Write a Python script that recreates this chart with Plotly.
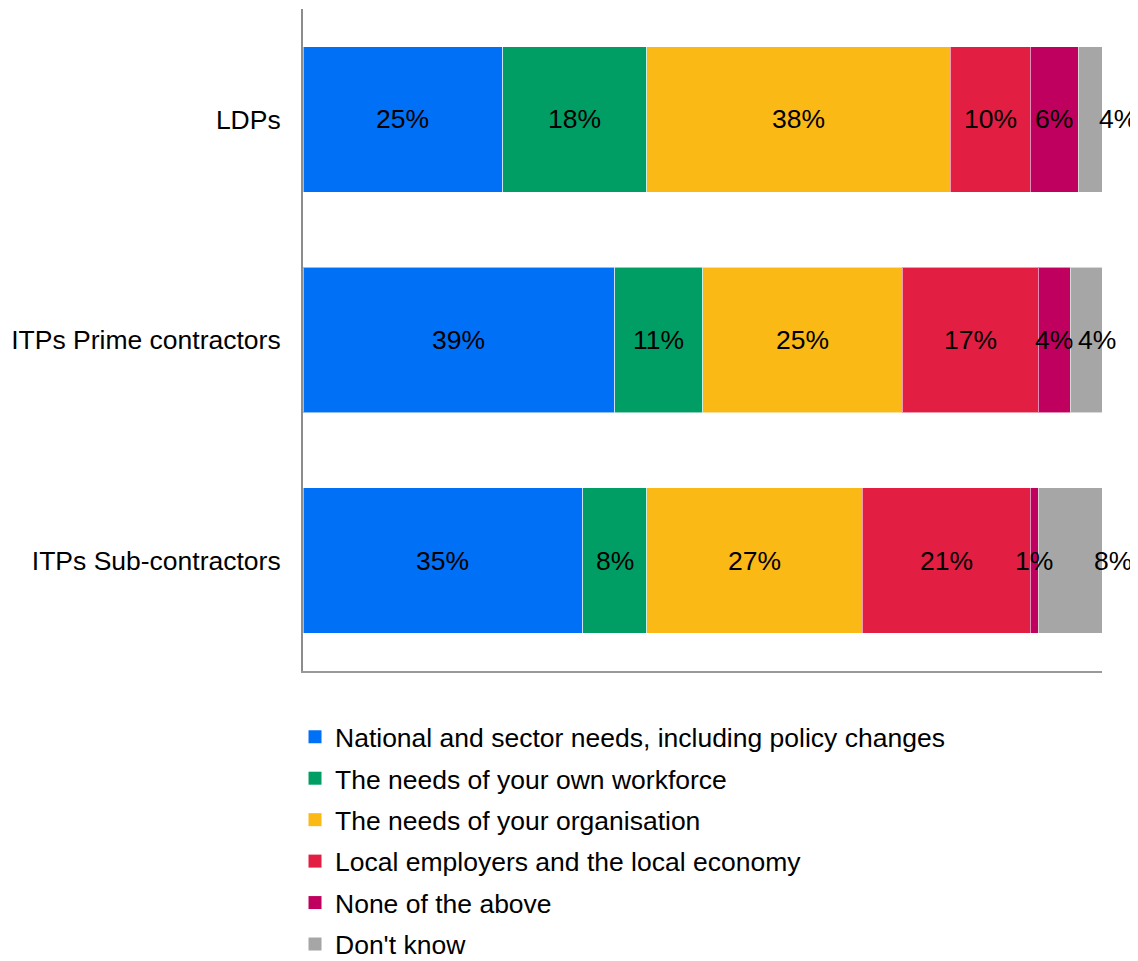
import plotly.graph_objects as go
import numpy as np

categories = ["LDPs", "ITPs Prime contractors", "ITPs Sub-contractors"]
series_names = [
    "National and sector needs, including policy changes",
    "The needs of your own workforce",
    "The needs of your organisation",
    "Local employers and the local economy",
    "None of the above",
    "Don't know",
]
national = [25, 39, 35]
workforce = [18, 11, 8]
organisation = [38, 25, 27]
local = [10, 17, 21]
none_above = [6, 4, 1]
dont_know = [4, 4, 8]

series_values = [national, workforce, organisation, local, none_above, dont_know]
colors = ["#0070F6", "#009E64", "#FBB915", "#E31E43", "#C0005F", "#A6A6A6"]
# pixel nudges for the "Don't know" labels (style only)
dk_label_nudge = [24, 11, 43]

FONT = "Liberation Sans, Arial, sans-serif"
FS = 26.5

fig = go.Figure()
for i, (name, vals, col) in enumerate(zip(series_names, series_values, colors)):
    fig.add_trace(go.Bar(
        y=categories, x=vals, name=name, orientation="h",
        marker=dict(color=col, line=dict(color="rgba(255,255,255,0.55)", width=1)),
        showlegend=False, hoverinfo="x+name",
    ))
# legend entries with larger square swatches
for i, (name, col) in enumerate(zip(series_names, colors)):
    fig.add_trace(go.Scatter(
        x=[None], y=[None], mode="markers", name=name,
        marker=dict(symbol="square", size=13, color=col),
        legendgroup=f"g{i}", showlegend=True,
    ))

# data labels, centred on each segment
cum = np.zeros(len(categories))
for i, vals in enumerate(series_values):
    v = np.array(vals, dtype=float)
    centers = cum + v / 2
    for j, cat in enumerate(categories):
        fig.add_annotation(
            x=centers[j], y=cat, xref="x", yref="y",
            text=f"{vals[j]}%", showarrow=False,
            font=dict(family=FONT, size=FS, color="#000000"),
            xshift=dk_label_nudge[j] if i == len(series_values) - 1 else 0,
        )
    cum += v

fig.update_layout(
    barmode="stack",
    bargap=0.34,
    width=1130, height=953,
    margin=dict(l=295, r=36, t=1, b=290, autoexpand=False),
    paper_bgcolor="white", plot_bgcolor="white",
    font=dict(family=FONT, size=FS, color="#000000"),
    showlegend=True,
    legend=dict(
        orientation="v", x=-0.01, xanchor="left", y=-0.0635, yanchor="top",
        traceorder="grouped", tracegroupgap=4, itemwidth=30,
        font=dict(family=FONT, size=FS, color="#000000"),
        bgcolor="rgba(0,0,0,0)",
    ),
)
fig.update_xaxes(range=[0, 100], showgrid=False, zeroline=False, showticklabels=False,
                 ticks="", showline=True, linecolor="#999999", linewidth=2)
fig.update_yaxes(type="category", categoryorder="array", categoryarray=categories,
                 autorange="reversed", showgrid=False, zeroline=False, ticks="",
                 showline=True, linecolor="#8c8c8c", linewidth=2,
                 ticklabelstandoff=15, tickfont=dict(family=FONT, size=FS, color="#000000"))

fig.write_html("out.html")
